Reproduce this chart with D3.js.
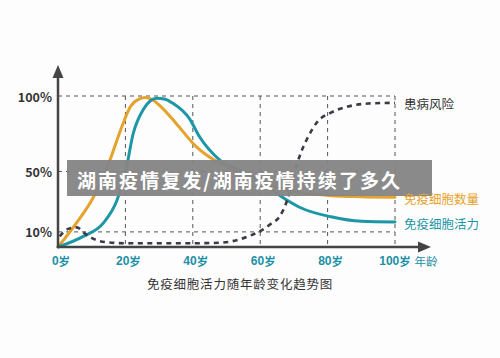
<!DOCTYPE html>
<html><head><meta charset="utf-8">
<script src="https://cdn.jsdelivr.net/npm/d3@7"></script>
<style>
html,body{margin:0;padding:0;background:#fdfdfd;}
svg{display:block;}
text{font-family:"Noto Sans CJK SC","Noto Sans",sans-serif;}
</style></head>
<body>
<svg id="chart" width="500" height="358"></svg>
<script>
// ---- data ----
const xTicks = [0, 20, 40, 60, 80, 100];
const xTickUnit = "岁";
const xAxisName = "年龄";
const yTicks = [10, 50, 100];
const title = "免疫细胞活力随年龄变化趋势图";
const banner = "湖南疫情复发/湖南疫情持续了多久";

const countName = "免疫细胞数量";
const countAges   = [0, 5.5, 10.5, 15, 19, 21.5, 24, 26, 28, 30.5, 35, 41, 48, 56, 62, 66, 72, 81, 90, 100];
const countValues = [0, 16, 33, 55, 80, 93, 98, 99, 97.5, 93, 82, 66.5, 55.5, 48.8, 42, 38.5, 36, 34, 33.3, 33];

const vitalityName = "免疫细胞活力";
const vitalityAges   = [0, 7.5, 13.5, 17.5, 20, 22.3, 25.3, 27.5, 29.3, 31.5, 34.2, 39, 42, 48, 56, 62, 68, 72, 81, 90, 100];
const vitalityValues = [0, 7, 16, 31, 49, 75, 91, 97, 98.5, 98, 95, 85, 73, 57.6, 48.8, 40, 31, 26, 20, 17, 16.5];

const riskName = "患病风险";
const riskAges   = [0.5, 3, 5.5, 8.5, 11.5, 15, 20, 30, 40, 48, 53, 57, 60, 63, 66, 68, 70, 72, 74, 77, 81, 86, 92, 100];
const riskValues = [7, 12, 13, 8, 4.5, 3, 2.5, 2.5, 2.5, 2.8, 4.5, 7.5, 10.5, 15, 21, 31, 48, 62, 72, 83, 89, 93, 95, 95.5];

// ---- drawing ----
const svg = d3.select("#chart");
const x = d3.scaleLinear().domain([0, 100]).range([58, 395]);
const y = d3.scaleLinear().domain([0, 100]).range([247, 96]);
const ORANGE = "#E5A22C", TEAL = "#1D96A6", DARK = "#3b3b45", AXIS = "#444";

svg.append("rect").attr("width", 500).attr("height", 358).attr("fill", "#fdfdfd");

// grid
const g = svg.append("g");
g.selectAll(".hg").data(yTicks).join("line")
  .attr("x1", x(0)).attr("x2", x(100))
  .attr("y1", d => y(d)).attr("y2", d => y(d))
  .attr("stroke", "#555").attr("stroke-width", 1).attr("stroke-dasharray", "4,4");
g.selectAll(".vg").data(xTicks.slice(1)).join("line")
  .attr("x1", d => x(d)).attr("x2", d => x(d))
  .attr("y1", y(100)).attr("y2", y(0))
  .attr("stroke", "#555").attr("stroke-width", 1).attr("stroke-dasharray", "4,4");

// curves
const line = d3.line().curve(d3.curveMonotoneX).x(d => x(d[0])).y(d => y(d[1]));
const series = [
  {name: countName, ages: countAges, values: countValues, color: ORANGE, dash: null, w: 3, tc: ORANGE},
  {name: vitalityName, ages: vitalityAges, values: vitalityValues, color: TEAL, dash: null, w: 3, tc: TEAL},
  {name: riskName, ages: riskAges, values: riskValues, color: DARK, dash: "5,4.5", w: 2.6, tc: "#333"}
];
series.forEach(s => {
  svg.append("path").datum(d3.zip(s.ages, s.values))
    .attr("d", line).attr("fill", "none")
    .attr("stroke", s.color).attr("stroke-width", s.w)
    .attr("stroke-dasharray", s.dash).attr("stroke-linecap", s.dash ? "butt" : "round");
});

// axes
svg.append("line").attr("x1", x(0)).attr("x2", 424).attr("y1", y(0)).attr("y2", y(0))
  .attr("stroke", AXIS).attr("stroke-width", 2.5);
svg.append("path").attr("d", `M431,${y(0)} L418,${y(0)-5.5} L418,${y(0)+5.5} Z`).attr("fill", AXIS);
svg.append("line").attr("x1", x(0)).attr("x2", x(0)).attr("y1", y(0) + 1).attr("y2", 72)
  .attr("stroke", AXIS).attr("stroke-width", 2.5);
svg.append("path").attr("d", `M${x(0)},65 L${x(0)-5.5},78 L${x(0)+5.5},78 Z`).attr("fill", AXIS);

// y labels
svg.selectAll(".yl").data(yTicks).join("text")
  .attr("x", 52).attr("y", d => y(d)).attr("text-anchor", "end")
  .attr("dominant-baseline", "central")
  .attr("font-family", "'Liberation Sans', Arial, sans-serif").attr("font-weight", "bold")
  .attr("font-size", 12.5).attr("fill", "#333").text(d => d + "%");

// x labels
const xl = svg.selectAll(".xl").data(xTicks).join("text")
  .attr("x", d => x(d) + (d === 100 ? 0 : 3)).attr("y", 261).attr("text-anchor", "middle")
  .attr("dominant-baseline", "central").attr("font-weight", "bold").attr("fill", "#1C8FA6");
xl.append("tspan").attr("font-family", "'Liberation Sans', Arial, sans-serif").attr("font-size", 12).text(d => d);
xl.append("tspan").attr("font-size", 11.5).text(xTickUnit);
svg.append("text").attr("x", 426).attr("y", 261).attr("text-anchor", "middle")
  .attr("dominant-baseline", "central").attr("font-size", 11.5).attr("fill", "#1C8FA6").text(xAxisName);

// caption
svg.append("text").attr("x", 240).attr("y", 283).attr("text-anchor", "middle")
  .attr("dominant-baseline", "central").attr("font-size", 12.5).attr("letter-spacing", 0.8)
  .attr("fill", "#333").text(title);

// banner overlay
svg.append("rect").attr("x", 67).attr("y", 160).attr("width", 365).attr("height", 36)
  .attr("fill", "#858585").attr("opacity", 0.96);
svg.append("text").attr("x", 77).attr("y", 179).attr("dominant-baseline", "central")
  .attr("font-size", 19).attr("font-weight", "bold").attr("fill", "#fff")
  .attr("textLength", 323).attr("lengthAdjust", "spacing").text(banner);

// series labels (drawn above the banner)
series.forEach(s => {
  svg.append("text").attr("x", 404).attr("y", y(s.values[s.values.length - 1]) + 1)
    .attr("dominant-baseline", "central").attr("font-size", 12.5)
    .attr("fill", s.tc).text(s.name);
});
</script>
</body></html>
